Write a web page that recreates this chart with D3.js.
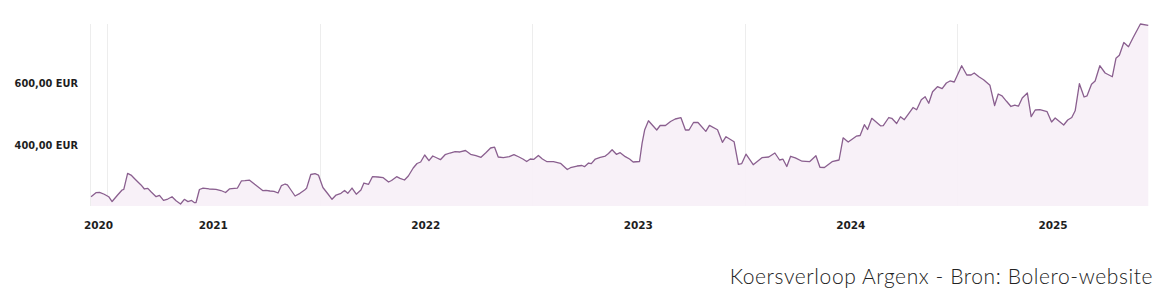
<!DOCTYPE html>
<html><head><meta charset="utf-8">
<script src="https://cdn.jsdelivr.net/npm/d3@7"></script>
<style>body{margin:0;background:#fff} svg{display:block}</style>
</head><body><svg id="c" width="1171" height="297"></svg>
<script>
// time as decimal years
const dates = [
2020.925,2020.948,2020.965,2020.987,2021.008,2021.024,2021.050,2021.071,2021.079,2021.097,
2021.113,2021.136,2021.160,2021.176,2021.192,2021.207,2021.231,2021.247,2021.266,2021.286,
2021.306,2021.325,2021.346,2021.364,2021.381,2021.398,2021.412,2021.419,2021.435,2021.452,
2021.481,2021.513,2021.536,2021.558,2021.576,2021.599,2021.614,2021.633,2021.649,2021.671,
2021.695,2021.734,2021.748,2021.767,2021.786,2021.805,2021.821,2021.838,2021.849,2021.864,
2021.885,2021.908,2021.930,2021.939,2021.959,2021.979,2021.995,2022.016,2022.040,2022.059,
2022.078,2022.101,2022.118,2022.133,2022.153,2022.173,2022.195,2022.209,2022.231,2022.249,
2022.275,2022.300,2022.325,2022.339,2022.363,2022.379,2022.400,2022.418,2022.441,2022.459,
2022.476,2022.495,2022.515,2022.533,2022.553,2022.569,2022.591,2022.614,2022.638,2022.661,
2022.687,2022.711,2022.736,2022.760,2022.784,2022.805,2022.824,2022.841,2022.865,2022.893,
2022.915,2022.939,2022.959,2022.975,2022.992,2023.009,2023.030,2023.049,2023.071,2023.101,
2023.134,2023.166,2023.181,2023.212,2023.235,2023.247,2023.266,2023.279,2023.298,2023.321,
2023.345,2023.360,2023.377,2023.397,2023.415,2023.439,2023.459,2023.476,2023.506,2023.518,
2023.530,2023.548,2023.587,2023.603,2023.628,2023.652,2023.674,2023.701,2023.722,2023.739,
2023.760,2023.781,2023.818,2023.835,2023.873,2023.896,2023.913,2023.951,2023.971,2023.987,
2024.007,2024.041,2024.082,2024.114,2024.143,2024.165,2024.181,2024.199,2024.217,2024.239,
2024.271,2024.306,2024.336,2024.355,2024.376,2024.412,2024.445,2024.464,2024.488,2024.526,
2024.544,2024.564,2024.579,2024.599,2024.640,2024.653,2024.679,2024.693,2024.716,2024.734,
2024.752,2024.771,2024.793,2024.810,2024.832,2024.850,2024.867,2024.885,2024.908,2024.930,
2024.950,2024.967,2024.987,2025.022,2025.046,2025.066,2025.081,2025.103,2025.125,2025.155,
2025.177,2025.194,2025.212,2025.233,2025.254,2025.272,2025.289,2025.307,2025.331,2025.349,
2025.368,2025.390,2025.424,2025.445,2025.462,2025.502,2025.521,2025.540,2025.556,2025.576,
2025.598,2025.612,2025.633,2025.650,2025.672,2025.697,2025.731,2025.748,2025.764,2025.785,
2025.807,2025.829,2025.863,2025.900
];
const prices = [
236,249,250,244,236,220.5,241.5,257.7,260,311.6,
306,290,274,261,263,252,236,240.6,224.4,228.6,
236,223,212.5,227.6,220,223.8,216.7,217.3,259.3,264,
261,260,256,249.6,261,263,264,287.4,287.7,289.4,
276,255.4,256.7,254.5,253.5,248,272,277,274,259.3,
238.3,247,257.7,263,307.8,310.4,306,265.8,244.8,227.6,
241.5,247,256,247,264,244,257.7,280.3,276,300.7,
299.7,297.4,283.5,288.4,300.7,295.5,290,303,328.8,343.3,
348.2,370.8,352.4,367.5,361.1,355.6,371.7,377.2,381.4,380.5,
385.3,373,368.5,363.3,378.8,393.4,396,364.3,362,365.3,
371.7,364.3,356.9,349.8,357.8,356.9,369.2,357.8,349.1,349.1,
344,323.9,329.7,335.2,336.8,333,344.9,342.7,357.8,363.3,
367.5,375.6,387.9,373,378.2,365.3,357.8,348.2,349.8,408.6,
451.5,481.3,451.5,466.1,466.1,479,487.1,491.3,451.5,451.5,
475.8,475.8,447.3,466.7,452.5,411.8,429.9,413.7,340.7,343,
373.4,339.4,362,364.3,377.2,354.6,357.2,333.6,366.6,361.7,
350.7,349.1,368.2,331,330.4,349.1,354.6,426.3,412.8,431.5,
433.8,468.7,453.2,489.3,465.1,465.4,491.9,489.3,472.5,494.5,
484.8,503.2,524.2,517.1,549.4,559.1,537.8,575.3,591.4,585,
603.4,609.9,606.6,659.3,629.2,629.2,635.7,623.4,614.1,596,
530.7,567.8,562,544.3,527.5,531.7,528.4,554.9,571.1,494.5,
516.2,517.1,510.7,477.4,490.3,467.7,483.8,491.9,513.6,601.1,
558.2,562,599.5,609.9,659.3,635.7,623.7,683.2,692.9,734.2,
720.7,750.4,794,789.8
];
const yTicks = [400, 600];
const yearGrid = [2021, 2022, 2023, 2024, 2025];
const yearLabels = [2020, 2021, 2022, 2023, 2024, 2025];
const xDomain = [2020.92, 2025.9035];
const yDomain = [206, 794];
const caption = "Koersverloop Argenx - Bron: Bolero-website";

const svg = d3.select("#c");
const L = 90, R = 1149, T = 24, B = 206;
const x = d3.scaleLinear().domain(xDomain).range([L, R]);
const y = d3.scaleLinear().domain(yDomain).range([B, T]);
const data = dates.map((d, i) => ({d, v: prices[i]}));

// vertical grid lines
svg.append("g").selectAll("line").data([xDomain[0]].concat(yearGrid)).join("line")
  .attr("x1", d => Math.round(x(d)) + 0.5).attr("x2", d => Math.round(x(d)) + 0.5)
  .attr("y1", T).attr("y2", B)
  .attr("stroke", "#ededed").attr("stroke-width", 1);

// area
svg.append("path").datum(data)
  .attr("d", d3.area().x(p => x(p.d)).y0(B).y1(p => y(p.v)))
  .attr("fill", "#f7f0f7").attr("opacity", 0.9);

// line
svg.append("path").datum(data)
  .attr("d", d3.line().x(p => x(p.d)).y(p => y(p.v)))
  .attr("fill", "none").attr("stroke", "#8a5f8f").attr("stroke-width", 1.3)
  .attr("stroke-linejoin", "round");

// y labels
const fmt = v => d3.format(".2f")(v).replace(".", ",") + " EUR";
svg.append("g").selectAll("text").data(yTicks).join("text")
  .attr("x", 78).attr("y", d => y(d)).attr("dy", "0.35em")
  .attr("text-anchor", "end")
  .attr("font-family", "DejaVu Sans").attr("font-weight", "bold").attr("font-size", 9.8)
  .attr("fill", "#1e1e1e").text(fmt);

// x labels centred in each visible year span
svg.append("g").selectAll("text").data(yearLabels).join("text")
  .attr("x", d => (x(Math.max(d, xDomain[0])) + x(Math.min(d + 1, xDomain[1]))) / 2)
  .attr("y", 229)
  .attr("text-anchor", "middle")
  .attr("font-family", "DejaVu Sans").attr("font-weight", "bold").attr("font-size", 10.5)
  .attr("fill", "#1e1e1e").text(d => d);

// caption
svg.append("text").attr("x", 1153).attr("y", 284).attr("text-anchor", "end")
  .attr("font-family", "Lato").attr("font-weight", 300).attr("font-size", 21)
  .attr("letter-spacing", 0.6)
  .attr("fill", "#222").text(caption);
</script>
</body></html>
